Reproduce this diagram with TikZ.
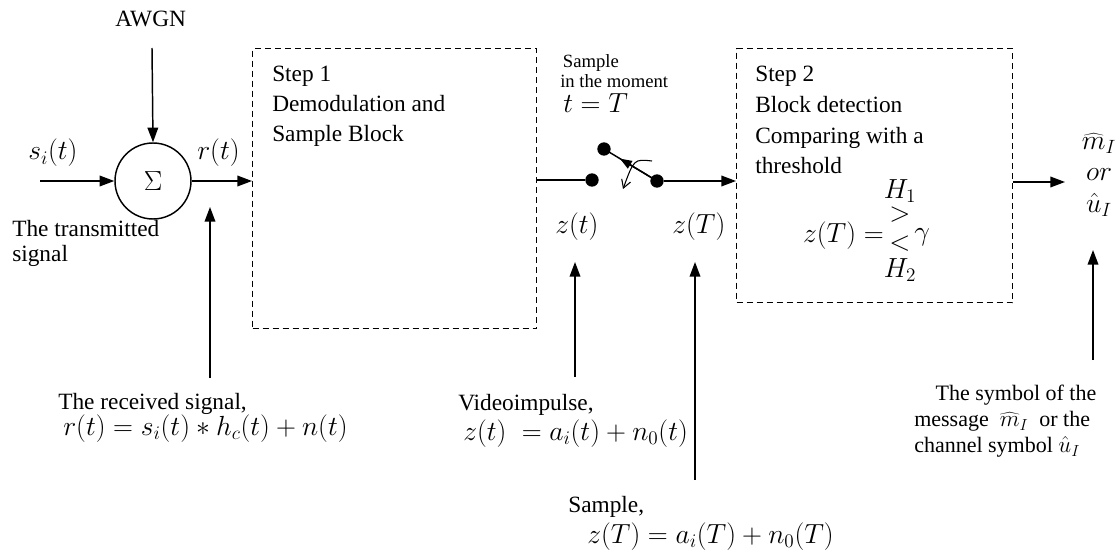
\documentclass[tikz,border=0pt]{standalone}
\usepackage{fontspec}
\setmainfont{Liberation Serif}
\usetikzlibrary{arrows.meta,calc}
\begin{document}
\begin{tikzpicture}[x=0.75pt,y=-0.75pt,
 txt/.style={font=\fontsize{17.5}{21}\selectfont, inner sep=0, anchor=base west},
 mth/.style={font=\fontsize{19.5}{22}\selectfont, inner sep=0, anchor=base west},
 smalltxt/.style={font=\fontsize{14}{16}\selectfont, inner sep=0, anchor=base west},
 conn/.style={line width=1.1pt, -{Triangle[length=11pt,width=8pt]}},
 wire/.style={line width=1.1pt},
 dbox/.style={draw, line width=0.9pt, dash pattern=on 4.5pt off 3pt, inner sep=0},
 sdot/.style={circle, fill, inner sep=0, minimum size=10pt},
]
\useasboundingbox (0,0) rectangle (1119,549);

% summing junction
\node[circle, draw, line width=1.1pt, minimum size=57pt, inner sep=0] (sum) at (153,181) {\fontsize{19.5}{22}\selectfont$\Sigma$};

% dashed blocks
\node[dbox, anchor=north west, minimum width=213pt, minimum height=210pt] (b1) at (252,48) {};
\node[dbox, anchor=north west, minimum width=207pt, minimum height=190.5pt] (b2) at (736,48) {};

% switch dots
\node[sdot] (d1) at (592,180) {};
\node[sdot] (d2) at (604,149) {};
\node[sdot] (d3) at (657,181) {};

% free ends
\coordinate (sin) at (40,181);
\coordinate (awtop) at (152,48);
\coordinate (rsb) at (210,378);
\coordinate (rst) at (210,207);
\coordinate (ztb) at (575,377);
\coordinate (ztt) at (575,262);
\coordinate (zTb) at (695,480);
\coordinate (zTt) at (695,262);
\coordinate (outb) at (1093,360);
\coordinate (outt) at (1093,250);
\coordinate (outend) at (1065,182);
\coordinate (ca1) at (652,161);
\coordinate (ca2) at (623,189);

% connectors
\draw[conn] (awtop) -- (sum.north);
\draw[conn] (sin) -- (sum.west);
\draw[conn] (sum.east) -- (sum.east -| b1.west);
\draw[wire] (b1.east |- d1) -- (d1);
\draw[wire] (d2.center) -- (d3.center);
\draw[line width=1.1pt, -{Triangle[length=9pt,width=6.5pt]}] (d3.center) -- ($(d2.center)!0.3!(d3.center)$);
\draw[line width=0.8pt, -{Straight Barb[length=6pt,width=7pt]}] (ca1) .. controls (634,159) .. (ca2);
\draw[conn] (d3) -- (d3 -| b2.west);
\draw[conn] (b2.east |- outend) -- (outend);
\draw[conn] (rsb) -- (rst);
\draw[conn] (ztb) -- (ztt);
\draw[conn] (zTb) -- (zTt);
\draw[conn] (outb) -- (outt);

% labels
\node[txt] (awgn) at (115,27) {AWGN};
\node[mth] (si) at (28,160) {$s_i(t)$};
\node[mth] (rt) at (197,160) {$r(t)$};
\node[txt, align=left, anchor=north west, font=\fontsize{17.5}{19}\selectfont] (tr) at (12,220) {The transmitted\\signal};

\node[txt, align=left, anchor=north west, font=\fontsize{17.5}{22.5}\selectfont] (s1) at (272,66) {Step 1\\Demodulation and\\Sample Block};

\node[smalltxt, align=left, anchor=north west, font=\fontsize{14}{15.5}\selectfont] (sm) at (560,54) {\hspace*{2pt}Sample\\in the moment};
\node[mth] (sm3) at (563,113) {$t=T$};

\node[mth] (zt) at (555,233) {$z(t)$};
\node[mth] (zT) at (672,233) {$z(T)$};

\node[txt, align=left, anchor=north west, font=\fontsize{17.5}{23}\selectfont] (s2) at (755,66) {Step 2\\Block detection\\Comparing with a\\threshold};

\node[mth, anchor=base east] (thr) at (884,242) {$z(T)=$};
\node[mth, anchor=base] (h1) at (900,198) {$H_1$};
\node[mth, anchor=center] (gt) at (900,215) {$>$};
\node[mth, anchor=center] (lt) at (900,244) {$<$};
\node[mth] (gam) at (914,240) {$\gamma$};
\node[mth, anchor=base] (h2) at (900,277) {$H_2$};

\node[mth, anchor=north, align=center, font=\fontsize{19.5}{23.5}\selectfont] (outsym) at (1099,133) {$\widehat{m}_I$\\$or$\\$\hat{u}_I$};

\node[txt, align=left, anchor=north west, font=\fontsize{17.5}{21}\selectfont] (rc1) at (58,393) {The received signal,};
\node[mth] (rc2) at (63,435) {$r(t)=s_i(t)*h_c(t)+n(t)$};

\node[txt] (vi1) at (458,410) {Videoimpulse,};
\node[mth] (vi2) at (463,440) {$z(t)\;=a_i(t)+n_0(t)$};

\node[txt] (sa1) at (568,512) {Sample,};
\node[mth] (sa2) at (587,543) {$z(T)=a_i(T)+n_0(T)$};

\node[txt, align=left, anchor=north west, font=\fontsize{16.5}{19.5}\selectfont] (sy) at (914,385) {\hspace*{16pt}The symbol of the\\message\ \ $\widehat{m}_I$\ \ or the\\channel symbol $\hat{u}_I$};
\end{tikzpicture}
\end{document}
